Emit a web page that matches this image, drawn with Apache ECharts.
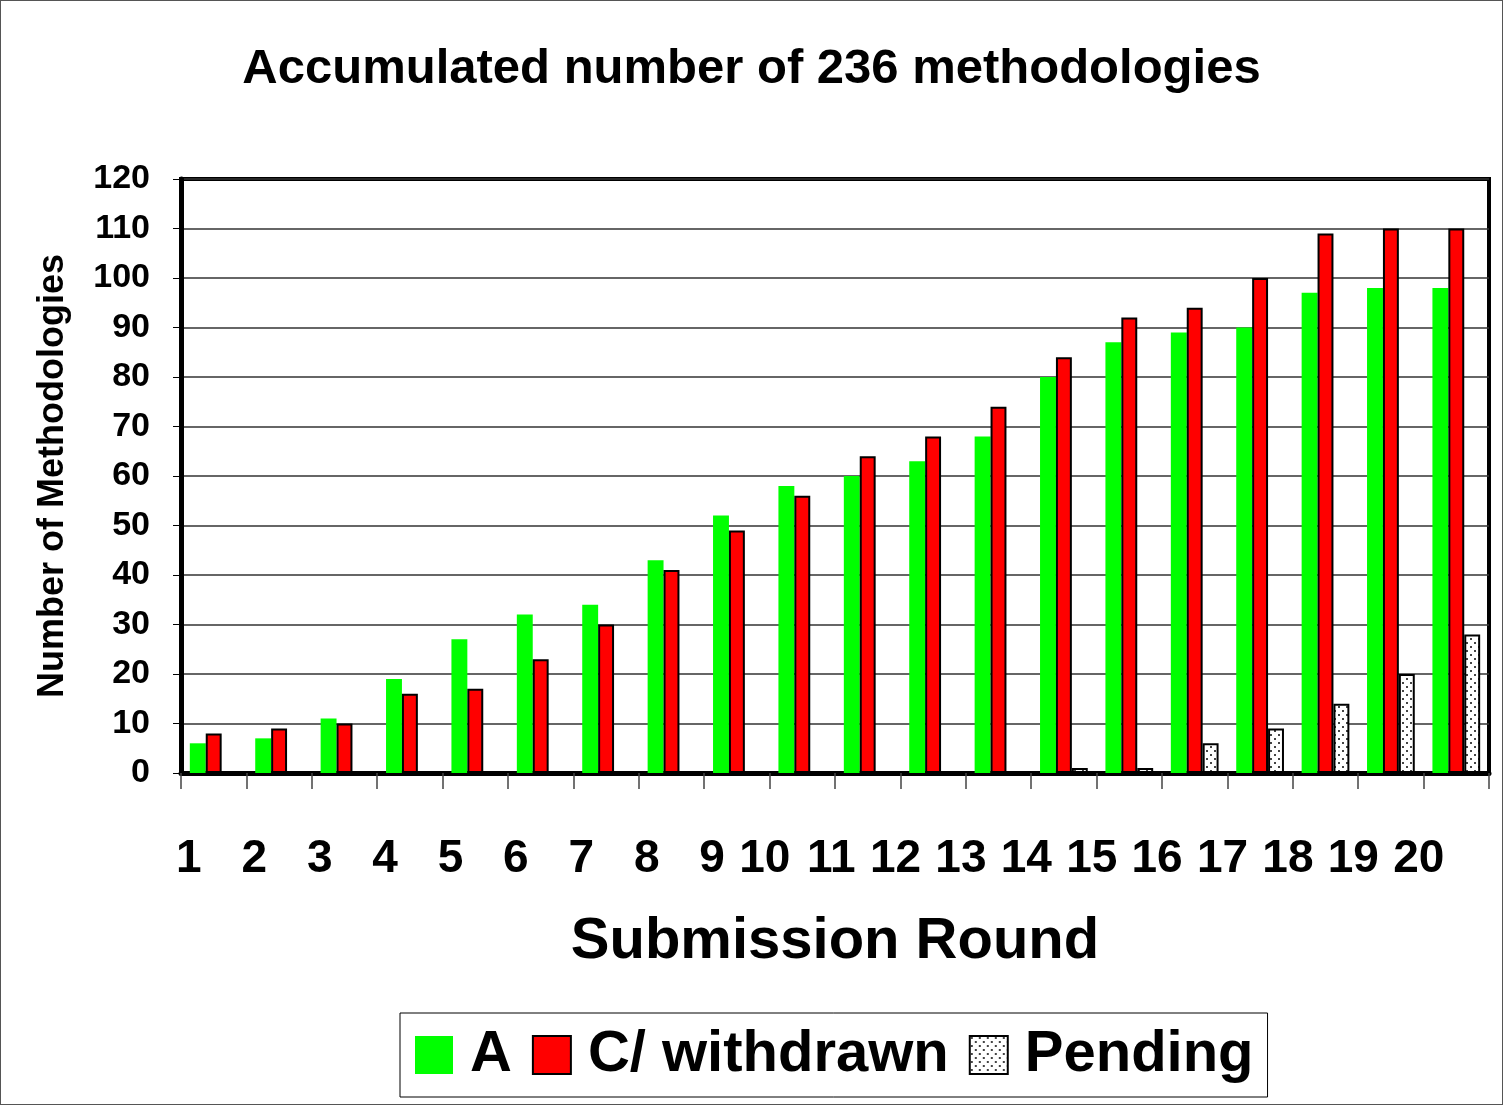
<!DOCTYPE html>
<html>
<head>
<meta charset="utf-8">
<script src="https://cdn.jsdelivr.net/npm/echarts@6/dist/echarts.min.js"></script>
<style>
  html, body { margin: 0; padding: 0; background: #fff; }
  #chart {
    width: 1503px;
    height: 1105px;
    box-sizing: border-box;
    border: 1px solid #555;
  }
</style>
</head>
<body>
<div id="chart"></div>
<script>
const rounds = ['1', '2', '3', '4', '5', '6', '7', '8', '9', '10',
  '11', '12', '13', '14', '15', '16', '17', '18', '19', '20'];
const accepted = [6, 7, 11, 19, 27, 32, 34, 43, 52, 58, 60, 63, 68, 80, 87, 89, 90, 97, 98, 98];
const withdrawn = [8, 9, 10, 16, 17, 23, 30, 41, 49, 56, 64, 68, 74, 84, 92, 94, 100, 109, 110, 110];
const pending = [0, 0, 0, 0, 0, 0, 0, 0, 0, 0, 0, 0, 0, 1, 1, 6, 9, 14, 20, 28];

const fontFamily = '"Liberation Sans", Arial, sans-serif';

// dotted fill for the pending bars
const makeDots = () => {
  const c = document.createElement('canvas');
  c.width = 8;
  c.height = 8;
  const ctx = c.getContext('2d');
  ctx.fillStyle = '#fff';
  ctx.fillRect(0, 0, 8, 8);
  ctx.fillStyle = '#444';
  ctx.fillRect(1, 1, 2, 2);
  ctx.fillRect(5, 5, 2, 2);
  return c;
};

const myChart = echarts.init(document.getElementById('chart'));

const option = {
  backgroundColor: '#fff',
  animation: false,
  title: {
    text: 'Accumulated number of 236 methodologies',
    left: 'center',
    top: 39,
    textStyle: {
      fontFamily: fontFamily,
      fontSize: 49,
      fontWeight: 'bold',
      color: '#000'
    }
  },
  legend: {
    left: 399,
    top: 1012,
    padding: [13, 14, 13, 15],
    borderColor: '#000',
    borderWidth: 1,
    itemWidth: 38,
    itemHeight: 38,
    itemGap: 20,
    icon: 'rect',
    textStyle: {
      fontFamily: fontFamily,
      fontSize: 58,
      fontWeight: 'bold',
      color: '#000',
      padding: [0, 0, 0, 12]
    },
    data: ['A', 'C/ withdrawn', 'Pending']
  },
  grid: {
    left: 180,
    right: 13,
    top: 178,
    bottom: 331,
    show: true,
    borderColor: '#000',
    borderWidth: 4
  },
  xAxis: {
    type: 'category',
    data: rounds,
    name: 'Submission Round',
    nameLocation: 'middle',
    nameGap: 140,
    nameTextStyle: {
      fontFamily: fontFamily,
      fontSize: 58,
      fontWeight: 'bold',
      color: '#000'
    },
    axisLine: { lineStyle: { color: '#000', width: 5 } },
    axisTick: { show: true, length: 16, lineStyle: { color: '#444', width: 1.5 } },
    axisLabel: {
      interval: 0,
      fontFamily: fontFamily,
      fontSize: 46,
      fontWeight: 'bold',
      color: '#000',
      margin: 63,
      align: 'right',
      padding: [0, 12, 0, 0]
    }
  },
  yAxis: {
    type: 'value',
    min: 0,
    max: 120,
    interval: 10,
    name: 'Number of Methodologies',
    nameLocation: 'middle',
    nameGap: 110,
    nameTextStyle: {
      fontFamily: fontFamily,
      fontSize: 36,
      fontWeight: 'bold',
      color: '#000'
    },
    axisLine: { show: true, lineStyle: { color: '#000', width: 5 } },
    axisTick: { show: true, length: 8, lineStyle: { color: '#000', width: 1 } },
    axisLabel: {
      fontFamily: fontFamily,
      fontSize: 34,
      fontWeight: 'bold',
      color: '#000',
      margin: 31
    },
    splitLine: { lineStyle: { color: '#333', width: 1.5 } }
  },
  series: [
    {
      name: 'A',
      type: 'bar',
      data: accepted,
      barGap: '0%',
      barCategoryGap: '27%',
      itemStyle: { color: '#00ff00' }
    },
    {
      name: 'C/ withdrawn',
      type: 'bar',
      data: withdrawn,
      itemStyle: { color: '#ff0000', borderColor: '#000', borderWidth: 2 }
    },
    {
      name: 'Pending',
      type: 'bar',
      data: pending,
      itemStyle: {
        color: { image: makeDots(), repeat: 'repeat' },
        borderColor: '#000',
        borderWidth: 2
      }
    }
  ]
};

myChart.setOption(option);
</script>
</body>
</html>
